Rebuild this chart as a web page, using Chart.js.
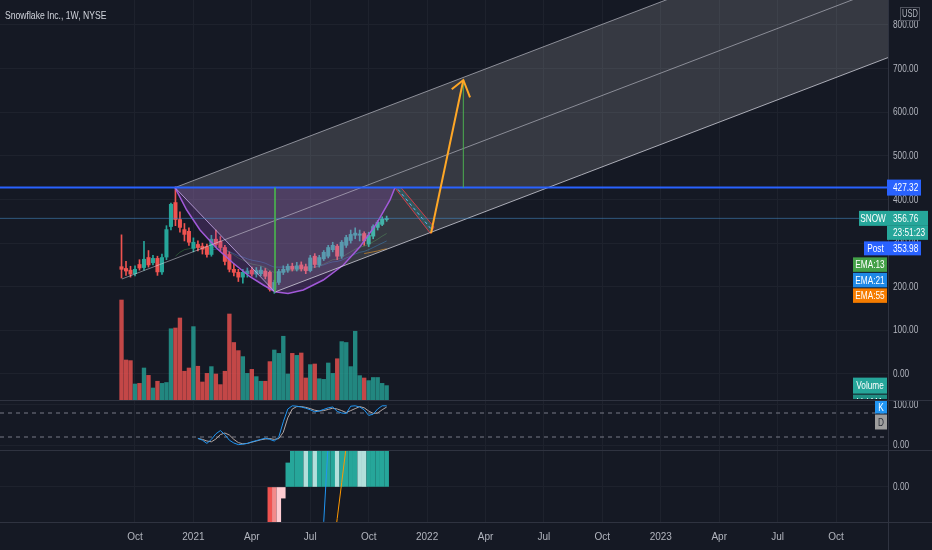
<!DOCTYPE html>
<html lang="en">
<head>
<meta charset="UTF-8">
<title>Snowflake Inc., 1W, NYSE</title>
<script src="https://cdn.jsdelivr.net/npm/chart.js"></script>
<style>
  html, body { margin: 0; padding: 0; background: #151924; }
  #wrap { position: relative; width: 932px; height: 550px; overflow: hidden; background: #151924; }
  #wrap canvas { position: absolute; left: 0; }
  #title { position: absolute; left: 5px; top: 9px; font: 10.5px 'Liberation Sans', Arial, sans-serif; color: #d1d4dc;
           white-space: nowrap; transform: scaleX(0.82); transform-origin: 0 0; }
</style>
</head>
<body>
<div id="wrap">
  <canvas id="price" width="932" height="400" style="top:0"></canvas>
  <canvas id="stoch" width="932" height="50" style="top:400px"></canvas>
  <canvas id="momentum" width="932" height="100" style="top:450px"></canvas>
  <div id="title">Snowflake Inc., 1W, NYSE</div>
</div>
<script>
// weekly bars, first bar is the week of 2020-09-14; x value = week number
const opens  = [246,242,238,230,251,244,267,255,265,234,268,338,393,354,331,327,288,297,293,292,
                274,309,304,290,274,240,233,222,230,238,229,230,236,233,194,210,233,238,247,240,
                250,246,237,270,250,264,270,285,293,270,295,306,318,318,322,298,316,336,343,354];
const highs  = [319,258,247,248,262,304,283,272,270,275,340,392,429,372,345,335,312,305,300,298,
                318,330,315,295,280,252,240,240,243,245,244,246,242,236,215,240,248,252,254,256,
                257,252,272,276,272,283,295,302,297,306,318,330,335,330,326,325,342,352,360,362];
const lows   = [220,226,222,225,238,238,245,250,226,228,262,330,340,325,305,295,280,282,275,268,
                270,292,282,250,234,225,212,208,222,224,222,225,218,190,185,205,228,233,236,236,
                236,230,234,244,245,260,266,280,262,265,290,300,310,305,295,292,310,330,340,350];
const closes = [240,236,229,240,243,263,250,265,234,267,331,389,354,336,320,302,302,290,286,274,
                309,297,290,258,240,233,222,233,236,229,237,238,224,194,210,235,240,247,240,248,
                241,237,266,251,267,279,290,295,270,302,313,320,323,321,305,318,338,348,355,356.76];
// volume, millions of shares
const volumes = [80,32,31.5,12.8,13.3,25.6,19.7,9.6,15,13.3,14,57,57.6,65.6,23,25.6,58.7,27,14.4,21.3,
                 26.7,20.8,12.3,23,68.8,46,39.5,34.7,21.3,24.5,18.7,15,15,30.7,40,37.3,51,20.8,37.3,35.7,
                 37.6,17.6,28.3,28.8,17,16.5,29.6,21.3,33,46.7,46,26.7,55,19.5,17.6,15.5,18,18,13.3,11.5];
const weeks = closes.map((c, i) => i);

const ema13Start = 12;
const ema13 = [270,279,285,287,290,290,289,287,290,291,291,286,280,273,266,261,256,252,250,248,
               244,237,233,233,234,236,237,238,239,239,243,244,247,252,257,262,263,267,274,280,
               286,291,293,297,303,309,316,322];
const ema21Start = 20;
const ema21 = [285,286,287,284,280,276,271,268,264,261,259,257,254,249,245,245,245,245,245,245,
               245,244,246,246,248,250,254,257,258,261,266,270,275,279,281,285,290,295,300,305];
const ema55Start = 54;
const ema55 = [276,278,280,282,285,287];

const stochStart = 17;
const stochK = [17,12,4,14,28,36,26,12,5,1,2,4,8,11,14,17,14,10,20,58,90,98,97,95,92,88,83,85,89,93,
                95,84,80,79,97,98,95,88,74,77,90,98,98];
const stochD = [16,14,10,8,15,26,30,25,14,6,3,4,7,10,13,15,16,14,16,32,68,90,96,96,94,91,87,85,86,89,
                92,90,86,81,86,91,96,93,85,79,80,88,95];
const stochBands = [80, 20];

const momStart = 33;
const momHist = [-1.6,-1.5,-1.2,-0.3,0.65,1.3,1.6,1.9,1.8,2.1,2.0,2.3,2.6,2.9,3.1,2.9,3.2,3.5,3.7,3.8,
                 3.6,3.4,3.6,3.9,4.2,4.4,4.6];
// R falling below zero, r easing, p recovering, G rising above zero, g fading
const momTone = ['R','r','p','p','G','G','G','G','g','G','g','G','G','G','G','g','G','G','G','G',
                 'g','g','G','G','G','G','G'];
const fastStart = 40;
const momFast = [-6.0,-5.6,-5.1,-4.3,-3.0,-0.93,1.2,2.4,3.3,4.0,4.6,5.1,5.5,5.9,6.2,6.5,6.8,7.0,7.2,7.4];
const slowStart = 44;
const momSlow = [-5.2,-4.2,-3.0,-1.81,-0.85,0.12,1.1,1.9,2.6,3.2,3.7,4.1,4.5,4.9,5.2,5.5];

const tickWeeks  = [3,16,29,42,55,68,81,94,107,120,133,146,159];
const tickLabels = ['Oct','2021','Apr','Jul','Oct','2022','Apr','Jul','Oct','2023','Apr','Jul','Oct'];
const priceTicks = [0,100,200,300,400,500,600,700,800];

// drawings, [week, price]
const resistance = 427.32;
const postPrice = 353.98;
const countdown = '23:51:23';
const channelUpper  = [[11.9, 427.32], [170.6, 1052]];
const channelMiddle = [[0.1, 217.8], [170.6, 889]];
const channelLower  = [[34.16, 188], [170.6, 725.4]];
const channelEdge   = [[11.9, 427.32], [34.16, 188]];
const cupArc = [[11.9,427.32],[14.51,375.9],[17.47,330.1],[21.18,288.1],[24.88,253.8],[28.59,223.0],
                [31.55,204.0],[34.16,188.7],[37.05,184.5],[40.45,192.6],[44.9,215.5],[49.36,249.9],
                [53.07,291.8],[56.79,345.4],[59.75,398.9],[60.86,427.32]];
const handle = [[60.86,426.5],[62.2,427.32],[69.54,337.0],[68.76,322.1],[60.86,426.5]];
const handleMid = [[61.53,423],[69.09,330.1]];
const cupDepth = [[34.16,427.32],[34.16,188.7]];
const target = [[76.06,427.32],[76.06,673.9]];
const arrowShaft = [[68.87,322.5],[76.06,673.9]];
const arrowHead = [[73.48,652.6],[76.06,673.9],[77.55,634.3]];

// ---- look ----
const X_MIN = -27.04, X_MAX = 170.56;
const FONT = "'Liberation Sans', Arial, sans-serif";
const NARROW = 0.75;
const GRID = '#1e222d', TEXT = '#b2b5be', FRAME = '#2f3340';
const UP = '#26a69a', DOWN = '#ef5350';
const TEAL = '#26a69a', BLUE = '#2962ff';
Chart.defaults.font.family = FONT;
Chart.defaults.font.size = 11;
Chart.defaults.color = TEXT;

const xy = arr => arr.map(([x, y]) => ({ x, y }));
const series = (start, arr) => arr.map((v, i) => ({ x: start + i, y: v }));
const isUp = closes.map((c, i) => c >= opens[i]);

function line(data, color, width, extra) {
  return Object.assign({ type: 'line', data, borderColor: color, borderWidth: width, pointRadius: 0,
    pointHoverRadius: 0, fill: false, tension: 0, yAxisID: 'y' }, extra || {});
}

function xAxis(labels) {
  return {
    type: 'linear', min: X_MIN, max: X_MAX, offset: false,
    grid: { color: GRID, drawTicks: false, offset: false },
    border: { display: false },
    ticks: { display: labels, autoSkip: false, maxRotation: 0, padding: 9, font: { size: 10 },
             callback: (v, i) => tickLabels[i] },
    afterBuildTicks: s => { s.ticks = tickWeeks.map(v => ({ value: v })); },
    afterFit: s => { s.height = labels ? 28 : 0; s.paddingLeft = 0; s.paddingRight = 0; }
  };
}
function yAxis(min, max, values) {
  return {
    type: 'linear', position: 'right', min, max,
    grid: { color: GRID, drawTicks: false },
    border: { display: false },
    ticks: { padding: 5, autoSkip: false, callback: v => v.toFixed(2) },
    afterBuildTicks: s => { s.ticks = values.map(v => ({ value: v })); },
    afterFit: s => {
      s.width = 44; s.paddingTop = 0; s.paddingBottom = 0;
      if (!s.narrowed) {
        // the price scale font is a condensed one, squeeze the labels about their left edge
        const draw = s.drawLabels.bind(s);
        s.drawLabels = area => {
          const c = s.ctx, ax = s.left + 5;
          c.save(); c.translate(ax, 0); c.scale(NARROW, 1); c.translate(-ax, 0);
          draw(area);
          c.restore();
        };
        s.narrowed = true;
      }
    }
  };
}
const baseOptions = {
  responsive: false, animation: false, events: [],
  layout: { padding: 0 },
  plugins: { legend: { display: false }, tooltip: { enabled: false } }
};

const paneFrame = {
  id: 'paneFrame',
  afterDraw(chart) {
    const { ctx, chartArea: a, width, height } = chart;
    ctx.save();
    ctx.strokeStyle = FRAME; ctx.lineWidth = 1;
    ctx.beginPath();
    ctx.moveTo(a.right + 0.5, 0); ctx.lineTo(a.right + 0.5, height);
    if (chart.canvas.id !== 'price') { ctx.moveTo(0, 0.5); ctx.lineTo(width, 0.5); }
    if (chart.canvas.id === 'momentum') { ctx.moveTo(0, a.bottom + 0.5); ctx.lineTo(width, a.bottom + 0.5); }
    ctx.stroke();
    ctx.restore();
  }
};

function ntext(ctx, text, x, y, align) {
  ctx.save();
  ctx.translate(x, y); ctx.scale(NARROW, 1);
  ctx.textAlign = align; ctx.textBaseline = 'middle';
  ctx.fillText(text, 0, 0);
  ctx.restore();
}
function tag(ctx, x, y, w, h, fill, text, color, tx) {
  ctx.fillStyle = fill;
  ctx.fillRect(x, y, w, h);
  ctx.fillStyle = color;
  if (tx === undefined) ntext(ctx, text, x + w / 2, y + h / 2 + 0.5, 'center');
  else ntext(ctx, text, tx, y + h / 2 + 0.5, 'left');
}

const priceTags = {
  id: 'priceTags',
  afterDraw(chart) {
    const ctx = chart.ctx, y = chart.scales.y, yv = chart.scales.yv;
    ctx.save();
    // currency badge
    ctx.fillStyle = '#151924'; ctx.fillRect(900, 7, 20, 14);
    ctx.strokeStyle = '#50535e'; ctx.lineWidth = 1; ctx.strokeRect(900.5, 7.5, 19, 13);
    ctx.font = '10px ' + FONT; ctx.fillStyle = TEXT;
    ntext(ctx, 'USD', 910, 14.5, 'center');
    ctx.font = '11px ' + FONT;
    const yr = y.getPixelForValue(resistance);
    tag(ctx, 887, yr - 8, 34, 16, BLUE, resistance.toFixed(2), '#fff', 893);
    const last = closes[closes.length - 1];
    const yl = y.getPixelForValue(last);
    tag(ctx, 859, yl - 7.5, 28, 15, TEAL, 'SNOW', '#fff');
    tag(ctx, 887, yl - 7.5, 41, 15, TEAL, last.toFixed(2), '#fff', 893);
    tag(ctx, 887, yl + 7.5, 41, 14, TEAL, countdown, '#fff', 893);
    tag(ctx, 864, yl + 23, 23, 14, BLUE, 'Post', '#fff');
    tag(ctx, 887, yl + 23, 34, 14, BLUE, postPrice.toFixed(2), '#fff', 893);
    tag(ctx, 853, yl + 39, 34, 14.5, '#43a047', 'EMA:13', '#fff');
    tag(ctx, 853, yl + 54.5, 34, 14.5, '#1e88e5', 'EMA:21', '#fff');
    tag(ctx, 853, yl + 70, 34, 14.5, '#f57c00', 'EMA:55', '#fff');
    const yvol = yv.getPixelForValue(volumes[volumes.length - 1]);
    tag(ctx, 853, yvol - 8, 34, 16, TEAL, 'Volume', '#fff');
    ctx.beginPath(); ctx.rect(0, 0, 932, chart.chartArea.bottom - 1); ctx.clip();
    tag(ctx, 853, yvol + 9, 34, 15, '#1f8f84', 'Vol MA', '#fff');
    ctx.restore();
  }
};

const stochTags = {
  id: 'stochTags',
  afterDraw(chart) {
    const ctx = chart.ctx, y = chart.scales.y;
    ctx.save();
    ctx.font = '11px ' + FONT;
    const yk = y.getPixelForValue(stochK[stochK.length - 1]);
    tag(ctx, 875, Math.max(1, yk - 6), 12, 12.5, '#2196f3', 'K', '#fff');
    tag(ctx, 875, Math.max(1, yk - 6) + 13.5, 12, 15, '#9e9e9e', 'D', '#2a2e39');
    ctx.restore();
  }
};

// ---- price pane ----
const wick = weeks.map(i => ({ x: i, y: [lows[i], highs[i]] }));
const body = weeks.map(i => ({ x: i, y: [opens[i], closes[i]] }));
const channelShape = xy([channelUpper[0], channelUpper[1], channelLower[1], channelLower[0], channelUpper[0]]);

new Chart(document.getElementById('price'), {
  type: 'bar',
  data: {
    datasets: [
      { type: 'bar', data: weeks.map(i => ({ x: i, y: volumes[i] })), yAxisID: 'yv', grouped: false,
        backgroundColor: isUp.map(u => u ? 'rgba(38,166,154,0.78)' : 'rgba(239,83,80,0.8)'),
        categoryPercentage: 1, barPercentage: 1, maxBarThickness: 3.7, order: 12 },
      line(series(ema13Start, ema13), 'rgba(76,175,80,0.35)', 1, { order: 11 }),
      line(series(ema21Start, ema21), 'rgba(33,150,243,0.35)', 1, { order: 11 }),
      line(series(ema55Start, ema55), 'rgba(255,152,0,0.55)', 1, { order: 11 }),
      { type: 'bar', data: wick, yAxisID: 'y', grouped: false,
        backgroundColor: isUp.map(u => u ? UP : DOWN),
        categoryPercentage: 1, barPercentage: 1, maxBarThickness: 1, order: 10 },
      { type: 'bar', data: body, yAxisID: 'y', grouped: false, minBarLength: 1,
        backgroundColor: isUp.map(u => u ? UP : DOWN),
        categoryPercentage: 1, barPercentage: 1, maxBarThickness: 3.4, order: 9 },
      line(channelShape, 'rgba(0,0,0,0)', 0, { fill: 'shape', backgroundColor: 'rgba(255,255,255,0.14)', order: 8 }),
      line(xy(cupArc), '#a259d9', 1.5, { fill: 'shape', backgroundColor: 'rgba(150,80,190,0.25)', order: 7 }),
      line(xy(handle), 'rgba(242,54,69,0.85)', 1, { fill: 'shape', backgroundColor: 'rgba(38,166,154,0.28)', order: 6 }),
      line(xy(handleMid), '#64b5f6', 1, { borderDash: [3, 3], order: 5 }),
      line(xy(channelUpper), 'rgba(225,225,235,0.55)', 1, { order: 4 }),
      line(xy(channelMiddle), 'rgba(225,225,235,0.5)', 1, { order: 4 }),
      line(xy(channelLower), 'rgba(230,230,240,0.7)', 1, { order: 4 }),
      line(xy(channelEdge), 'rgba(200,170,235,0.8)', 1, { order: 4 }),
      line(xy([[X_MIN, closes[closes.length - 1]], [X_MAX, closes[closes.length - 1]]]), 'rgba(70,140,200,0.55)', 1, { order: 3 }),
      line(xy([[X_MIN, resistance], [X_MAX, resistance]]), BLUE, 2, { order: 2 }),
      line(xy(cupDepth), '#4caf50', 1, { order: 1 }),
      line(xy(target), '#4caf50', 1, { order: 1 }),
      line(xy(arrowShaft), '#ffa726', 2, { order: 0 }),
      line(xy(arrowHead), '#ffa726', 2, { order: 0 })
    ]
  },
  options: Object.assign({}, baseOptions, {
    scales: {
      x: xAxis(false),
      y: yAxis(-59.6, 857.3, priceTicks),
      yv: { type: 'linear', display: false, min: 0, max: 320 }
    }
  }),
  plugins: [paneFrame, priceTags]
});

// ---- stochastic pane ----
new Chart(document.getElementById('stoch'), {
  type: 'line',
  data: {
    datasets: [
      line(xy([[X_MIN, stochBands[0]], [X_MAX, stochBands[0]]]), '#787b86', 1, { borderDash: [4, 4], order: 3 }),
      line(xy([[X_MIN, stochBands[1]], [X_MAX, stochBands[1]]]), '#787b86', 1, { borderDash: [4, 4], order: 3 }),
      line(series(stochStart, stochD), '#b5a8a4', 1, { order: 2 }),
      line(series(stochStart, stochK), '#2196f3', 1, { order: 1 })
    ]
  },
  options: Object.assign({}, baseOptions, {
    scales: { x: xAxis(false), y: yAxis(-12.5, 112.5, [0, 100]) }
  }),
  plugins: [paneFrame, stochTags]
});

// ---- momentum pane ----
const toneColor = { R: '#ef5350', r: '#f28b8b', p: '#ffcdd2', G: '#26a69a', g: '#b2dfdb' };
new Chart(document.getElementById('momentum'), {
  type: 'bar',
  data: {
    datasets: [
      { type: 'bar', data: series(momStart, momHist), yAxisID: 'y', grouped: false,
        backgroundColor: momTone.map(t => toneColor[t]),
        categoryPercentage: 1, barPercentage: 1, maxBarThickness: 3.9, order: 3 },
      line(series(fastStart, momFast), '#2196f3', 1, { order: 1 }),
      line(series(slowStart, momSlow), '#ff9800', 1, { order: 1 })
    ]
  },
  options: Object.assign({}, baseOptions, {
    scales: { x: xAxis(true), y: yAxis(-0.946, 1, [0]) }
  }),
  plugins: [paneFrame]
});
</script>
</body>
</html>
